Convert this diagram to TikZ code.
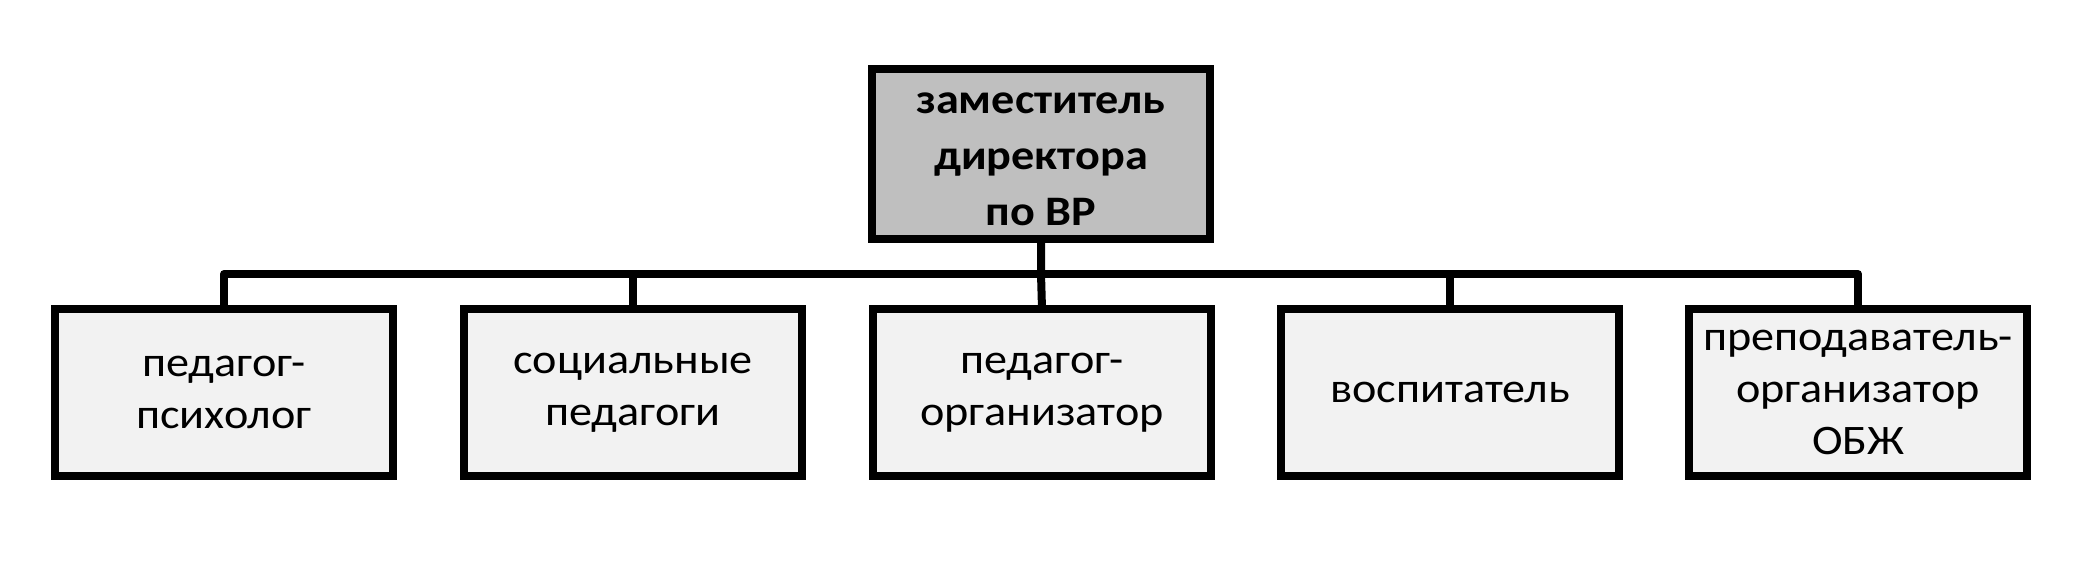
\documentclass[tikz,border=0pt]{standalone}
\usepackage{fontspec}
\setmainfont{Carlito}[FakeStretch=1.1]
\begin{document}
\begin{tikzpicture}[x=1pt,y=-1pt,
  box/.style={draw=black,line width=8pt,rectangle,inner sep=0pt,outer sep=0pt,
    minimum width=338pt,align=center,font=\fontsize{42}{52}\selectfont},
  topbox/.style={box,fill=topgray,minimum height=170pt},
  toptext/.style={align=center,inner sep=0pt,yshift=-5pt,font=\fontsize{42}{56}\selectfont\bfseries},
  subbox/.style={box,fill=subgray,minimum height=167pt},
  conn/.style={draw=black,line width=8pt,line join=round,line cap=butt}]
\definecolor{topgray}{RGB}{191,191,191}
\definecolor{subgray}{RGB}{242,242,242}
\useasboundingbox[fill=white] (0,0) rectangle (2085,564);
\coordinate (bus) at (0,274);
\node[topbox,label={[toptext]center:заместитель\\директора\\по ВР}] (top) at (1041,154) {};
\node[subbox] (b1) at (224,392.5) {педагог-\\психолог};
\node[subbox] (b2) at (633,392.5) {социальные\\педагоги};
\node[subbox] (b3) at (1042,392.5) {педагог-\\организатор};
\node[subbox] (b4) at (1450,392.5) {воспитатель};
\node[subbox] (b5) at (1858,392.5) {преподаватель-\\организатор\\ОБЖ};
\draw[conn] (b1.north) -- (b1.north |- bus) -- (b5.north |- bus) -- (b5.north);
\draw[conn] (top.south) -- (top.south |- bus) -- (b3.north);
\draw[conn] (b2.north) -- (b2.north |- bus);
\draw[conn] (b4.north) -- (b4.north |- bus);
\end{tikzpicture}
\end{document}
